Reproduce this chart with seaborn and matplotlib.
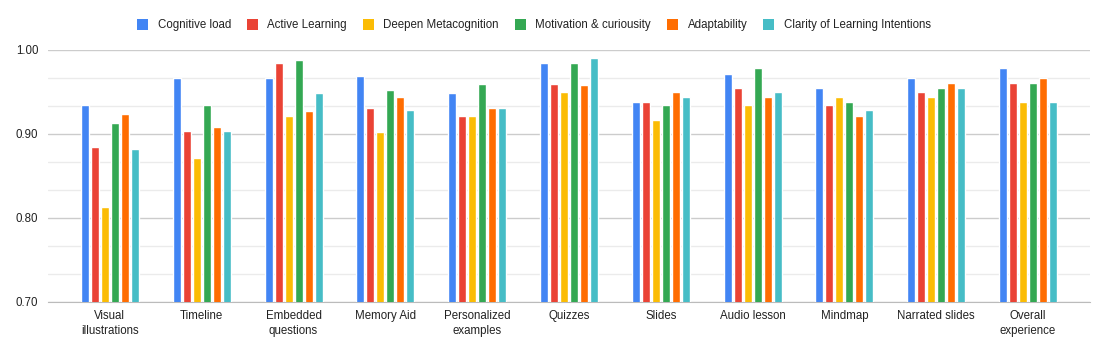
import numpy as np
import pandas as pd
import seaborn as sns
import matplotlib.pyplot as plt
from matplotlib.patches import Patch
from matplotlib.ticker import MultipleLocator, FormatStrFormatter

# Data
categories = ['Visual illustrations', 'Timeline', 'Embedded questions', 'Memory Aid',
              'Personalized examples', 'Quizzes', 'Slides', 'Audio lesson', 'Mindmap',
              'Narrated slides', 'Overall experience']
tick_labels = ['Visual\nillustrations', 'Timeline', 'Embedded\nquestions', 'Memory Aid',
               'Personalized\nexamples', 'Quizzes', 'Slides', 'Audio lesson', 'Mindmap',
               'Narrated slides', 'Overall\nexperience']
series = ['Cognitive load', 'Active Learning', 'Deepen Metacognition',
          'Motivation & curiousity', 'Adaptability', 'Clarity of Learning Intentions']

cognitive_load = [0.934, 0.967, 0.967, 0.969, 0.949, 0.985, 0.938, 0.972, 0.955, 0.967, 0.978]
active_learning = [0.884, 0.903, 0.984, 0.931, 0.921, 0.959, 0.938, 0.955, 0.934, 0.950, 0.961]
deepen_meta = [0.813, 0.871, 0.922, 0.902, 0.921, 0.950, 0.917, 0.934, 0.944, 0.944, 0.938]
motivation = [0.913, 0.935, 0.988, 0.952, 0.960, 0.985, 0.934, 0.978, 0.938, 0.955, 0.961]
adaptability = [0.924, 0.908, 0.927, 0.944, 0.931, 0.958, 0.950, 0.944, 0.922, 0.961, 0.967]
clarity = [0.882, 0.903, 0.949, 0.929, 0.931, 0.991, 0.944, 0.950, 0.928, 0.955, 0.938]

colors = ['#4285F4', '#EA4335', '#FBBC04', '#34A853', '#FF6D01', '#46BDC6']

# Long format for seaborn
df = pd.DataFrame({
    'category': categories * 6,
    'series': np.repeat(series, len(categories)),
    'value': cognitive_load + active_learning + deepen_meta + motivation + adaptability + clarity,
})

sns.set_style('white')
plt.rcParams['font.family'] = ['Liberation Sans', 'DejaVu Sans']
fs = 8.3

fig = plt.figure(figsize=(11.08, 3.54), dpi=100)
ax = fig.add_axes([48 / 1108, 52 / 354, 1042 / 1108, 252 / 354])

sns.barplot(data=df, x='category', y='value', hue='series', order=categories,
            hue_order=series, palette=colors, width=0.654, gap=0.2,
            saturation=1, errorbar=None, legend=False, ax=ax, zorder=3)

ax.set_ylim(0.70, 1.00)
ax.set_xlim(-0.674, 10.674)
ax.yaxis.set_major_locator(MultipleLocator(0.1))
ax.yaxis.set_minor_locator(MultipleLocator(0.1 / 3))
ax.yaxis.set_major_formatter(FormatStrFormatter('%.2f'))
ax.grid(axis='y', which='major', color='#cccccc', linewidth=1, zorder=0)
ax.grid(axis='y', which='minor', color='#ebebeb', linewidth=1, zorder=0)
ax.set_axisbelow(True)
ax.set_xticks(range(len(categories)))
ax.set_xticklabels(tick_labels, linespacing=1.3)
ax.tick_params(axis='both', which='both', length=0, labelsize=fs, colors='#222222')
ax.tick_params(axis='y', pad=7)
ax.tick_params(axis='x', pad=6)
ax.set_xlabel('')
ax.set_ylabel('')
for s in ['top', 'right', 'left']:
    ax.spines[s].set_visible(False)
ax.spines['bottom'].set_color('#bbbbbb')

# legend row on top, slightly left of centre like the original
handles = [Patch(facecolor=c, edgecolor='none') for c in colors]
fig.legend(handles, series, loc='center', bbox_to_anchor=(534 / 1108, 1 - 25 / 354), ncol=6,
           frameon=False, fontsize=fs, handlelength=0.96, handleheight=1.1,
           handletextpad=0.8, columnspacing=1.4, labelcolor='#222222')

fig.savefig('out.png', dpi=100)
